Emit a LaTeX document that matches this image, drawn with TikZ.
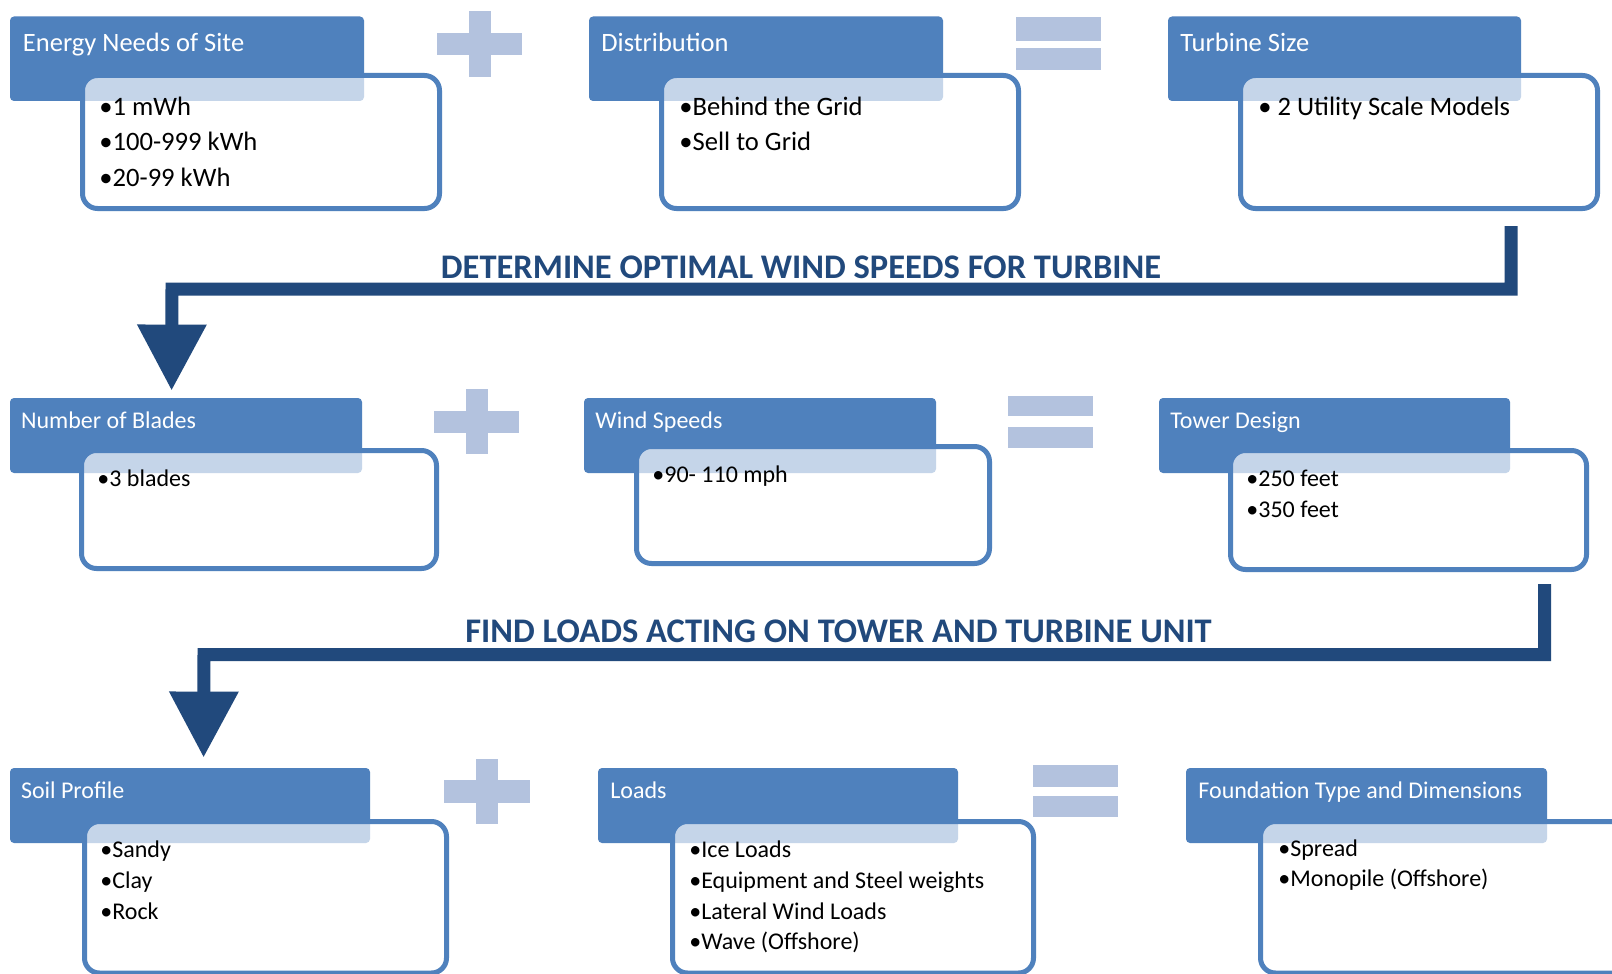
\documentclass[tikz,border=0pt]{standalone}
\usepackage{fontspec}
\setmainfont{Carlito}
\usetikzlibrary{arrows.meta,fit}
\definecolor{hblue}{RGB}{79,129,189}
\definecolor{pblue}{RGB}{179,194,222}
\definecolor{dblue}{RGB}{33,73,124}
\tikzset{
  hdr/.style={fill=hblue, draw=none, rounded corners=2pt, inner sep=0pt},
  bodybox/.style={draw=hblue, line width=2.5pt, fill=white, fill opacity=0.67, rounded corners=7.5pt, inner sep=0pt},
  htxtA/.style={text=white, font=\fontsize{13.25pt}{16pt}\selectfont, anchor=base west, inner sep=0pt},
  btxtA/.style={text=black, font=\fontsize{13.3pt}{16pt}\selectfont, anchor=base west, inner sep=0pt},
  htxtB/.style={text=white, font=\fontsize{12pt}{14pt}\selectfont, anchor=base west, inner sep=0pt},
  btxtB/.style={text=black, font=\fontsize{12pt}{14pt}\selectfont, anchor=base west, inner sep=0pt},
  conn/.style={draw=dblue, line width=6.5pt, line join=miter, -{Triangle[width=33pt,length=33pt]}},
  lbl/.style={text=dblue, font=\fontsize{17.25pt}{20pt}\selectfont\bfseries, anchor=base, inner sep=0pt},
  sym/.style={fill=pblue, draw=none}
}
\begin{document}
\begin{tikzpicture}[x=0.5pt,y=-0.5pt]
\useasboundingbox (0,0) rectangle (1612,974);
\fill[white] (0,0) rectangle (1612,974);
\clip (0,0) rectangle (1612,974);

% ---------- Row 1 ----------
\node[hdr, fit={(10,16.5)(364,101)}] (h11) {};
\node[hdr, fit={(589,16.5)(943,101)}] (h12) {};
\node[hdr, fit={(1168,16.5)(1521,101)}] (h13) {};
\node[bodybox, fit={(82.5,75.5)(439.5,208.5)}] (b11) {};
\node[bodybox, fit={(661.5,75.5)(1018.5,208.5)}] (b12) {};
\node[bodybox, fit={(1240.5,75.5)(1597.5,208.5)}] (b13) {};

\node[htxtA] (t11) at (22.6,52) {Energy Needs of Site};
\node[htxtA] (t12) at (601,52) {Distribution};
\node[htxtA] (t13) at (1180,52) {Turbine Size};

\node[btxtA] (l111) at (99,116) {•1 mWh};
\node[btxtA] (l112) at (99,151) {•100-999 kWh};
\node[btxtA] (l113) at (99,186) {•20-99 kWh};
\node[btxtA] (l121) at (679,116) {•Behind the Grid};
\node[btxtA] (l122) at (679,151) {•Sell to Grid};
\node[btxtA] (l131) at (1258,116) {• 2 Utility Scale Models};

\fill[sym] (469,11) rectangle (491,77);
\fill[sym] (437,33) rectangle (522,55);
\fill[sym] (1016,17.5) rectangle (1101,41);
\fill[sym] (1016,48) rectangle (1101,70);

% ---------- Row 2 ----------
\node[hdr, fit={(10,398)(362,473)}] (h21) {};
\node[hdr, fit={(584,398)(936,473)}] (h22) {};
\node[hdr, fit={(1159,398)(1510,473)}] (h23) {};
\node[bodybox, fit={(81.5,450.5)(436.5,568.5)}] (b21) {};
\node[bodybox, fit={(636.5,446.5)(989.5,563.5)}] (b22) {};
\node[bodybox, fit={(1230.5,450.5)(1586.5,569.5)}] (b23) {};

\node[htxtB] (t21) at (20.6,428) {Number of Blades};
\node[htxtB] (t22) at (595,428) {Wind Speeds};
\node[htxtB] (t23) at (1170,428) {Tower Design};

\node[btxtB] (l211) at (97,486) {•3 blades};
\node[btxtB] (l221) at (652,482) {•90- 110 mph};
\node[btxtB] (l231) at (1246,486) {•250 feet};
\node[btxtB] (l232) at (1246,517) {•350 feet};

\fill[sym] (465.5,389) rectangle (487.5,454);
\fill[sym] (434,410.5) rectangle (519,432.5);
\fill[sym] (1008,396) rectangle (1093,416);
\fill[sym] (1008,427) rectangle (1093,448);

% ---------- Row 3 ----------
\node[hdr, fit={(10,768)(370,843)}] (h31) {};
\node[hdr, fit={(598,768)(958,843)}] (h32) {};
\node[hdr, fit={(1186,768)(1547,843)}] (h33) {};
\node[bodybox, fit={(84.5,821.5)(446.5,973)}] (b31) {};
\node[bodybox, fit={(672.5,821.5)(1033.5,973)}] (b32) {};
\node[bodybox, fit={(1260.5,821.5)(1640,973)}] (b33) {};

\node[htxtB] (t31) at (20.6,798) {Soil Profile};
\node[htxtB] (t32) at (610,798) {Loads};
\node[htxtB] (t33) at (1198,798) {Foundation Type and Dimensions};

\node[btxtB] (l311) at (100,857) {•Sandy};
\node[btxtB] (l312) at (100,888) {•Clay};
\node[btxtB] (l313) at (100,919) {•Rock};
\node[btxtB] (l321) at (689,857) {•Ice Loads};
\node[btxtB] (l322) at (689,888) {•Equipment and Steel weights};
\node[btxtB] (l323) at (689,919) {•Lateral Wind Loads};
\node[btxtB] (l324) at (689,949) {•Wave (Offshore)};
\node[btxtB] (l331) at (1278,856) {•Spread};
\node[btxtB] (l332) at (1278,886) {•Monopile (Offshore)};

\fill[sym] (476,759) rectangle (498,824);
\fill[sym] (444,780) rectangle (530,803);
\fill[sym] (1033,765) rectangle (1118,787);
\fill[sym] (1033,796) rectangle (1118,817);

% ---------- Connectors ----------
\coordinate (s1) at ([xshift=-44.5pt,yshift=-7.5pt]b13.south east);
\coordinate (e1) at ([xshift=81pt,yshift=3.5pt]h21.north west);
\coordinate (m1) at (172,289);
\draw[conn] (s1) |- (m1) -- (e1);
\node[lbl] (lab1) at (801,278) {DETERMINE OPTIMAL WIND SPEEDS FOR TURBINE};

\coordinate (s2) at ([xshift=-22.25pt,yshift=-6pt]b23.south east);
\coordinate (e2) at ([xshift=97pt,yshift=5pt]h31.north west);
\coordinate (m2) at (204,654.5);
\draw[conn] (s2) |- (m2) -- (e2);
\node[lbl] (lab2) at (838.5,642) {FIND LOADS ACTING ON TOWER AND TURBINE UNIT};
\end{tikzpicture}
\end{document}
